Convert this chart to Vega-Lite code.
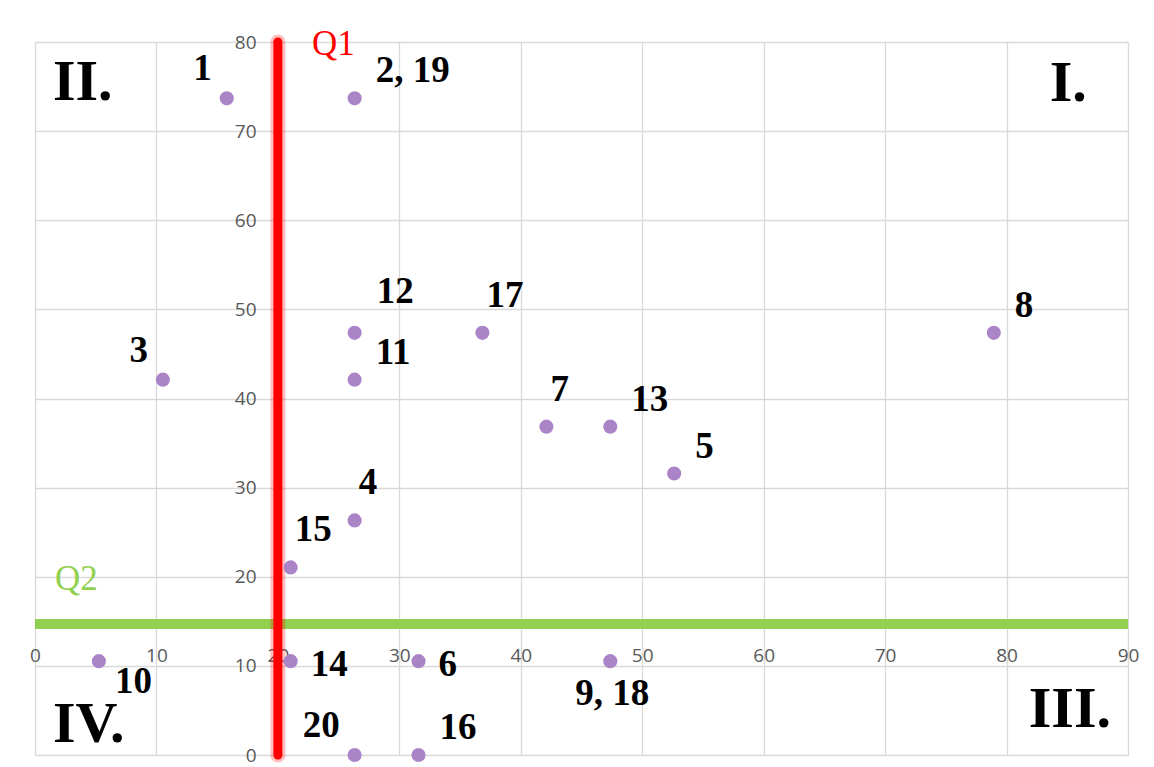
{
  "$schema": "https://vega.github.io/schema/vega-lite/v6.json",
  "autosize": "none",
  "padding": {"left": 35, "top": 42, "right": 26, "bottom": 12},
  "width": 1093,
  "height": 713,
  "background": "white",
  "config": {
    "view": {"stroke": "#D9D9D9", "strokeWidth": 1},
    "axis": {"gridColor": "#D9D9D9", "gridWidth": 1.3, "domain": false, "ticks": false, "tickSize": 0, "labelColor": "#595959", "labelFont": "Open Sans", "labelFontSize": 19, "title": null}
  },
  "datasets": {
    "pts": [
      {"x": 15.79, "y": 73.68, "label": "1", "pos": "NW"},
      {"x": 26.32, "y": 73.68, "label": "2, 19", "pos": "NE"},
      {"x": 10.53, "y": 42.11, "label": "3", "pos": "NW"},
      {"x": 26.32, "y": 47.37, "label": "12", "pos": "NNE"},
      {"x": 26.32, "y": 42.11, "label": "11", "pos": "NE"},
      {"x": 36.84, "y": 47.37, "label": "17", "pos": "N"},
      {"x": 78.95, "y": 47.37, "label": "8", "pos": "NE"},
      {"x": 42.11, "y": 36.84, "label": "7", "pos": "N"},
      {"x": 47.37, "y": 36.84, "label": "13", "pos": "NE"},
      {"x": 52.63, "y": 31.58, "label": "5", "pos": "NE"},
      {"x": 26.32, "y": 26.32, "label": "4", "pos": "N"},
      {"x": 21.05, "y": 21.05, "label": "15", "pos": "N"},
      {"x": 5.26, "y": 10.53, "label": "10", "pos": "SE"},
      {"x": 21.05, "y": 10.53, "label": "14", "pos": "E"},
      {"x": 31.58, "y": 10.53, "label": "6", "pos": "E"},
      {"x": 47.37, "y": 10.53, "label": "9, 18", "pos": "S"},
      {"x": 26.32, "y": 0, "label": "20", "pos": "NW"},
      {"x": 31.58, "y": 0, "label": "16", "pos": "NE"}
    ],
    "quads": [
      {"x": 1.48, "y": 73.5, "label": "II.", "side": "left"},
      {"x": 86.6, "y": 73.4, "label": "I.", "side": "right"},
      {"x": 1.48, "y": 1.46, "label": "IV.", "side": "left"},
      {"x": 88.6, "y": 3.14, "label": "III.", "side": "right"}
    ],
    "one": [{}]
  },
  "layer": [
    {
      "data": {"name": "one"},
      "mark": {"type": "rule", "color": "#92D050", "strokeWidth": 10},
      "encoding": {
        "x": {"datum": 0, "type": "quantitative", "scale": {"domain": [0, 90], "nice": false},
              "axis": {"orient": "bottom", "offset": -100, "values": [0,10,20,30,40,50,60,70,80,90], "labelBaseline": "middle", "labelPadding": 0, "labelFlush": false, "grid": true, "labelFontSize": 19, "labelFont": "Open Sans", "labelColor": "#595959"}},
        "x2": {"datum": 90},
        "y": {"datum": 14.7, "type": "quantitative", "scale": {"domain": [0, 80], "nice": false},
              "axis": {"orient": "left", "offset": -221, "values": [0,10,20,30,40,50,60,70,80], "labelAlign": "right", "labelBaseline": "middle", "labelPadding": 0, "labelFlush": false, "grid": true, "labelFontSize": 19, "labelFont": "Open Sans", "labelColor": "#595959"}}
      }
    },
    {
      "data": {"name": "one"},
      "mark": {"type": "rule", "color": "#FF0000", "strokeWidth": 15, "opacity": 0.25, "strokeCap": "round"},
      "encoding": {"x": {"datum": 20, "type": "quantitative"}, "y": {"datum": 0, "type": "quantitative"}, "y2": {"datum": 80}}
    },
    {
      "data": {"name": "one"},
      "mark": {"type": "rule", "color": "#FF0000", "strokeWidth": 9, "strokeCap": "round"},
      "encoding": {"x": {"datum": 20, "type": "quantitative"}, "y": {"datum": 0, "type": "quantitative"}, "y2": {"datum": 80}}
    },
    {
      "data": {"name": "pts"},
      "mark": {"type": "circle", "color": "#AB84C8", "opacity": 1, "size": 200},
      "encoding": {"x": {"field": "x", "type": "quantitative"}, "y": {"field": "y", "type": "quantitative"}}
    },
    {
      "data": {"name": "pts"},
      "transform": [{"filter": "datum.pos === 'NE'"}],
      "mark": {"type": "text", "font": "Liberation Serif", "fontWeight": "bold", "fontSize": 37, "align": "left", "baseline": "middle", "dx": 21, "dy": -27},
      "encoding": {"x": {"field": "x", "type": "quantitative"}, "y": {"field": "y", "type": "quantitative"}, "text": {"field": "label"}}
    },
    {
      "data": {"name": "pts"},
      "transform": [{"filter": "datum.pos === 'NNE'"}],
      "mark": {"type": "text", "font": "Liberation Serif", "fontWeight": "bold", "fontSize": 37, "align": "left", "baseline": "middle", "dx": 22, "dy": -41},
      "encoding": {"x": {"field": "x", "type": "quantitative"}, "y": {"field": "y", "type": "quantitative"}, "text": {"field": "label"}}
    },
    {
      "data": {"name": "pts"},
      "transform": [{"filter": "datum.pos === 'N'"}],
      "mark": {"type": "text", "font": "Liberation Serif", "fontWeight": "bold", "fontSize": 37, "align": "left", "baseline": "middle", "dx": 4, "dy": -37},
      "encoding": {"x": {"field": "x", "type": "quantitative"}, "y": {"field": "y", "type": "quantitative"}, "text": {"field": "label"}}
    },
    {
      "data": {"name": "pts"},
      "transform": [{"filter": "datum.pos === 'NW'"}],
      "mark": {"type": "text", "font": "Liberation Serif", "fontWeight": "bold", "fontSize": 37, "align": "right", "baseline": "middle", "dx": -15, "dy": -29},
      "encoding": {"x": {"field": "x", "type": "quantitative"}, "y": {"field": "y", "type": "quantitative"}, "text": {"field": "label"}}
    },
    {
      "data": {"name": "pts"},
      "transform": [{"filter": "datum.pos === 'E'"}],
      "mark": {"type": "text", "font": "Liberation Serif", "fontWeight": "bold", "fontSize": 37, "align": "left", "baseline": "middle", "dx": 20, "dy": 4},
      "encoding": {"x": {"field": "x", "type": "quantitative"}, "y": {"field": "y", "type": "quantitative"}, "text": {"field": "label"}}
    },
    {
      "data": {"name": "pts"},
      "transform": [{"filter": "datum.pos === 'SE'"}],
      "mark": {"type": "text", "font": "Liberation Serif", "fontWeight": "bold", "fontSize": 37, "align": "left", "baseline": "middle", "dx": 16, "dy": 21},
      "encoding": {"x": {"field": "x", "type": "quantitative"}, "y": {"field": "y", "type": "quantitative"}, "text": {"field": "label"}}
    },
    {
      "data": {"name": "pts"},
      "transform": [{"filter": "datum.pos === 'S'"}],
      "mark": {"type": "text", "font": "Liberation Serif", "fontWeight": "bold", "fontSize": 37, "align": "center", "baseline": "middle", "dx": 2, "dy": 33},
      "encoding": {"x": {"field": "x", "type": "quantitative"}, "y": {"field": "y", "type": "quantitative"}, "text": {"field": "label"}}
    },
    {
      "data": {"name": "quads"},
      "transform": [{"filter": "datum.side === 'left'"}],
      "mark": {"type": "text", "font": "Liberation Serif", "fontWeight": "bold", "fontSize": 58, "align": "left", "baseline": "alphabetic"},
      "encoding": {"x": {"field": "x", "type": "quantitative"}, "y": {"field": "y", "type": "quantitative"}, "text": {"field": "label"}}
    },
    {
      "data": {"name": "quads"},
      "transform": [{"filter": "datum.side === 'right'"}],
      "mark": {"type": "text", "font": "Liberation Serif", "fontWeight": "bold", "fontSize": 58, "align": "right", "baseline": "alphabetic"},
      "encoding": {"x": {"field": "x", "type": "quantitative"}, "y": {"field": "y", "type": "quantitative"}, "text": {"field": "label"}}
    },
    {
      "data": {"name": "one"},
      "mark": {"type": "text", "font": "Liberation Serif", "fontSize": 35, "color": "#FF0000", "align": "left", "baseline": "alphabetic", "text": "Q1"},
      "encoding": {"x": {"datum": 22.8, "type": "quantitative"}, "y": {"datum": 78.5, "type": "quantitative"}}
    },
    {
      "data": {"name": "one"},
      "mark": {"type": "text", "font": "Liberation Serif", "fontSize": 35, "color": "#92D050", "align": "left", "baseline": "alphabetic", "text": "Q2"},
      "encoding": {"x": {"datum": 1.65, "type": "quantitative"}, "y": {"datum": 18.5, "type": "quantitative"}}
    }
  ]
}
